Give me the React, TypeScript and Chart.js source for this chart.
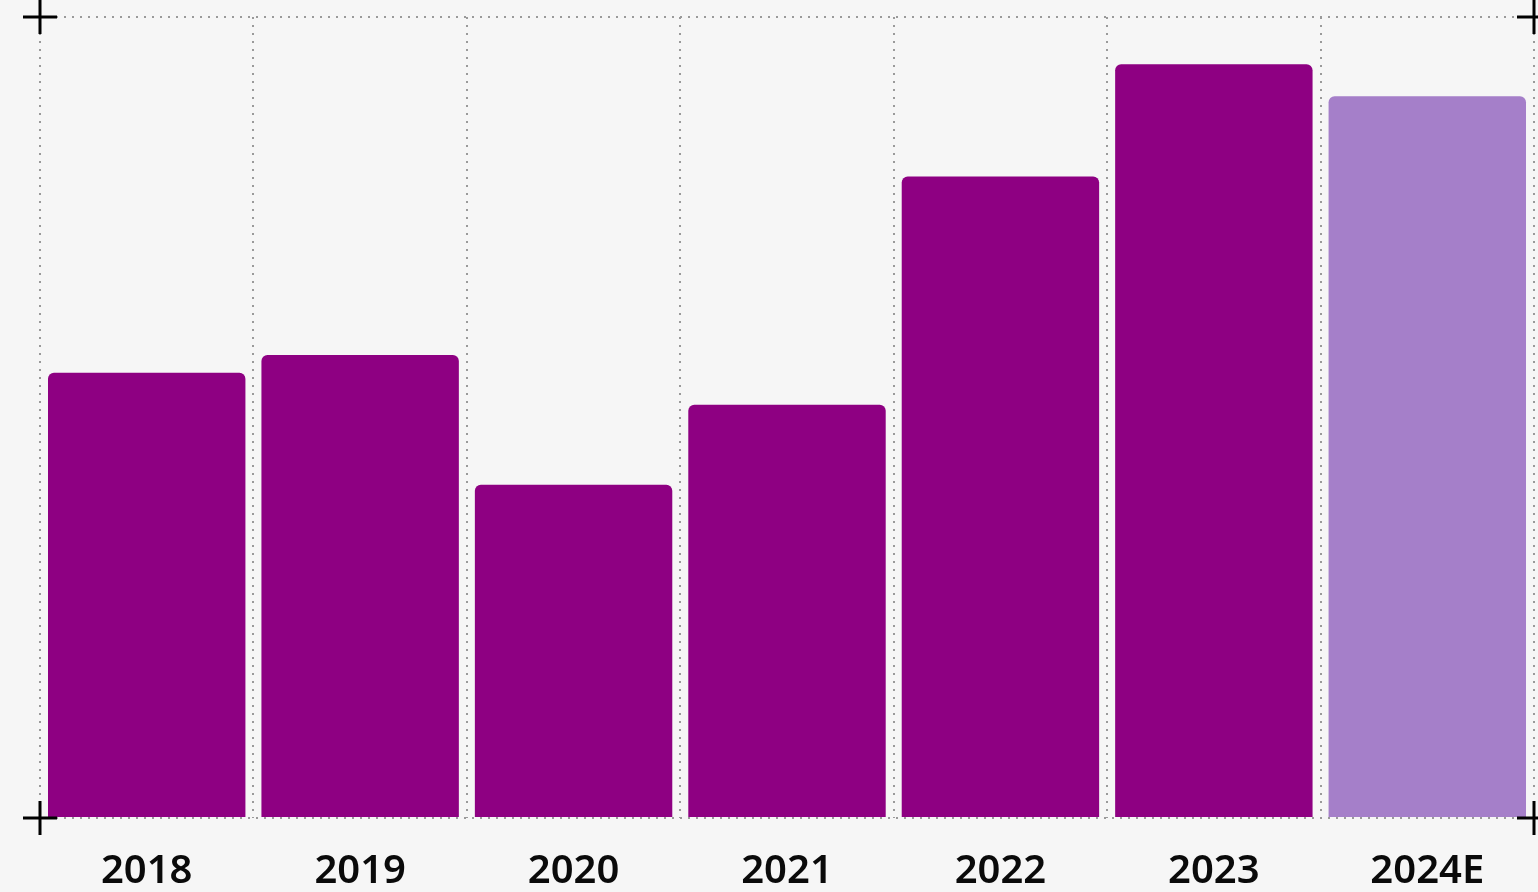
import React, { useEffect, useRef } from "react";
import { Chart, registerables } from "chart.js";

Chart.register(...registerables);

const categories = ["2018", "2019", "2020", "2021", "2022", "2023", "2024E"];
const values = [55.6, 57.8, 41.6, 51.6, 80.1, 94.1, 90.1];
const barColors = ["#8e0082", "#8e0082", "#8e0082", "#8e0082", "#8e0082", "#8e0082", "#a57fc9"];
const yMin = 0;
const yMax = 100;

const crossPlugin = {
  id: "corners",
  afterDraw(chart: any) {
    const { ctx, chartArea } = chart;
    const { left, right, top, bottom } = chartArea;
    const arm = 17;
    ctx.save();
    ctx.strokeStyle = "#000";
    ctx.lineWidth = 3;
    for (const [x, y] of [[left, top], [left, bottom], [right, top], [right, bottom]]) {
      ctx.beginPath();
      ctx.moveTo(x - arm, y);
      ctx.lineTo(x + arm, y);
      ctx.moveTo(x, y - arm);
      ctx.lineTo(x, y + arm);
      ctx.stroke();
    }
    ctx.restore();
  },
};

export default function App() {
  const ref = useRef<HTMLCanvasElement>(null);
  useEffect(() => {
    document.body.style.margin = "0";
    const chart = new Chart(ref.current!, {
      type: "bar",
      data: {
        labels: categories,
        datasets: [
          {
            data: values,
            backgroundColor: barColors,
            borderRadius: 6,
            categoryPercentage: 1,
            barPercentage: 0.925,
          },
        ],
      },
      options: {
        animation: false,
        responsive: false,
        maintainAspectRatio: false,
        layout: { padding: { left: 40, right: 4, top: 17, bottom: 0 } },
        plugins: { legend: { display: false }, tooltip: { enabled: false } },
        scales: {
          x: {
            offset: true,
            grid: { display: true, offset: true, color: "#9a9a9a", lineWidth: 2, drawTicks: false },
            border: { display: false, dash: [2, 6] },
            ticks: {
              color: "#0a0a0a",
              font: { family: "'Noto Sans'", size: 40, weight: "600" },
              padding: 30,
              maxRotation: 0,
            },
            afterFit: (s: any) => {
              s.height = 74;
            },
          },
          y: {
            min: yMin,
            max: yMax,
            grid: { display: true, color: "#9a9a9a", lineWidth: 2, drawTicks: false },
            border: { display: false, dash: [2, 6] },
            ticks: { display: false, stepSize: 100 },
            afterFit: (s: any) => {
              s.width = 0;
            },
          },
        },
      },
      plugins: [crossPlugin],
    });
    return () => chart.destroy();
  }, []);
  return (
    <div style={{ position: "fixed", left: 0, top: 0, width: 1538, height: 892, background: "#f6f6f6" }}>
      <canvas ref={ref} width={1538} height={892} style={{ width: 1538, height: 892, display: "block" }} />
    </div>
  );
}
